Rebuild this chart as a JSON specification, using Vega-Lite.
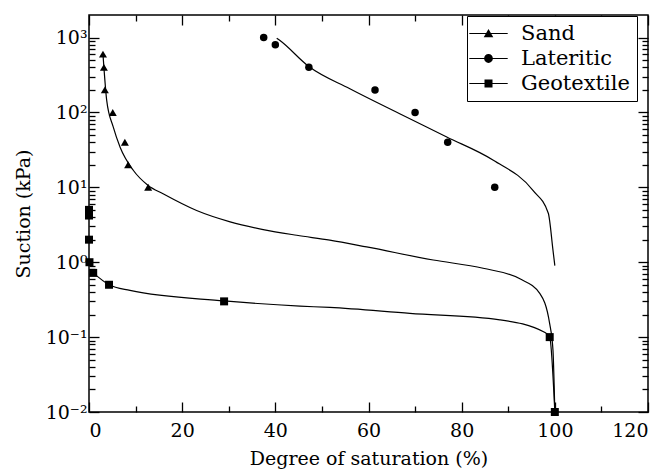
{
  "$schema": "https://vega.github.io/schema/vega-lite/v6.json",
  "width": 559,
  "height": 397,
  "autosize": {"type": "none"},
  "padding": {"left": 89, "top": 15, "right": 22, "bottom": 63},
  "background": "white",
  "config": {
    "view": {"stroke": "black", "strokeWidth": 1.5},
    "font": "DejaVu Serif",
    "axis": {
      "labelFont": "DejaVu Serif",
      "titleFont": "DejaVu Serif",
      "labelColor": "black",
      "titleColor": "black",
      "labelFontSize": 19,
      "titleFontSize": 19,
      "titleFontWeight": "normal",
      "domain": false,
      "ticks": true,
      "tickColor": "black",
      "tickOpacity": 1,
      "tickWidth": 1.3,
      "grid": false,
      "labelOverlap": false
    },
    "legend": {"labelFont": "DejaVu Serif"}
  },
  "datasets": {
    "curves": [
      {"series": "Sand", "x": 3.0, "y": 600},
      {"series": "Sand", "x": 3.2, "y": 400},
      {"series": "Sand", "x": 3.8, "y": 145},
      {"series": "Sand", "x": 5.2, "y": 64},
      {"series": "Sand", "x": 6.7, "y": 34},
      {"series": "Sand", "x": 9.5, "y": 16.9},
      {"series": "Sand", "x": 12.7, "y": 10.6},
      {"series": "Sand", "x": 15.9, "y": 8.2},
      {"series": "Sand", "x": 23.1, "y": 4.9},
      {"series": "Sand", "x": 30.3, "y": 3.46},
      {"series": "Sand", "x": 37.4, "y": 2.73},
      {"series": "Sand", "x": 44.6, "y": 2.29},
      {"series": "Sand", "x": 51.7, "y": 1.97},
      {"series": "Sand", "x": 59.6, "y": 1.6},
      {"series": "Sand", "x": 73.9, "y": 1.07},
      {"series": "Sand", "x": 84.6, "y": 0.83},
      {"series": "Sand", "x": 92.5, "y": 0.6},
      {"series": "Sand", "x": 96.8, "y": 0.38},
      {"series": "Sand", "x": 98.9, "y": 0.15},
      {"series": "Sand", "x": 99.6, "y": 0.067},
      {"series": "Sand", "x": 100, "y": 0.01},
      {"series": "Lateritic", "x": 40.3, "y": 980},
      {"series": "Lateritic", "x": 41, "y": 912},
      {"series": "Lateritic", "x": 47.2, "y": 410},
      {"series": "Lateritic", "x": 56.0, "y": 207},
      {"series": "Lateritic", "x": 66.7, "y": 96},
      {"series": "Lateritic", "x": 76.8, "y": 47},
      {"series": "Lateritic", "x": 86.8, "y": 23},
      {"series": "Lateritic", "x": 95.3, "y": 9.1},
      {"series": "Lateritic", "x": 98.6, "y": 4.5},
      {"series": "Lateritic", "x": 99.6, "y": 1.45},
      {"series": "Lateritic", "x": 100, "y": 0.9},
      {"series": "Geotextile", "x": 0.9, "y": 0.72},
      {"series": "Geotextile", "x": 4.3, "y": 0.5},
      {"series": "Geotextile", "x": 8.8, "y": 0.42},
      {"series": "Geotextile", "x": 29, "y": 0.305},
      {"series": "Geotextile", "x": 45.3, "y": 0.259},
      {"series": "Geotextile", "x": 51.7, "y": 0.249},
      {"series": "Geotextile", "x": 68.9, "y": 0.207},
      {"series": "Geotextile", "x": 88.2, "y": 0.17},
      {"series": "Geotextile", "x": 97.9, "y": 0.115},
      {"series": "Geotextile", "x": 98.9, "y": 0.1},
      {"series": "Geotextile", "x": 100, "y": 0.01}
    ],
    "points": [
      {"series": "Sand", "x": 3.0, "y": 600},
      {"series": "Sand", "x": 3.2, "y": 400},
      {"series": "Sand", "x": 3.4, "y": 200},
      {"series": "Sand", "x": 5.1, "y": 100},
      {"series": "Sand", "x": 7.7, "y": 40},
      {"series": "Sand", "x": 8.4, "y": 20},
      {"series": "Sand", "x": 12.7, "y": 10},
      {"series": "Lateritic", "x": 37.5, "y": 1000},
      {"series": "Lateritic", "x": 40, "y": 800},
      {"series": "Lateritic", "x": 47.2, "y": 400},
      {"series": "Lateritic", "x": 61.4, "y": 200},
      {"series": "Lateritic", "x": 70, "y": 100},
      {"series": "Lateritic", "x": 77, "y": 40},
      {"series": "Lateritic", "x": 87.1, "y": 10},
      {"series": "Geotextile", "x": 0, "y": 5},
      {"series": "Geotextile", "x": 0, "y": 4.2},
      {"series": "Geotextile", "x": 0, "y": 2},
      {"series": "Geotextile", "x": 0.1, "y": 1},
      {"series": "Geotextile", "x": 0.9, "y": 0.72},
      {"series": "Geotextile", "x": 4.3, "y": 0.5},
      {"series": "Geotextile", "x": 29, "y": 0.3},
      {"series": "Geotextile", "x": 98.9, "y": 0.1},
      {"series": "Geotextile", "x": 100, "y": 0.01}
    ]
  },
  "resolve": {"axis": {"x": "independent", "y": "independent"}},
  "layer": [
    {
      "data": {"name": "curves"},
      "mark": {"type": "line", "color": "black", "strokeOpacity": 0},
      "encoding": {
        "x": {
          "field": "x", "type": "quantitative",
          "scale": {"domain": [0, 120], "nice": false},
          "axis": {"orient": "bottom", "title": null, "labels": false, "offset": -6, "tickSize": 6, "values": [10, 30, 50, 70, 90, 110]}
        },
        "y": {
          "field": "y", "type": "quantitative",
          "scale": {"type": "log", "domain": [0.01, 2000], "nice": false},
          "axis": {"orient": "left", "title": null, "labels": false, "offset": -6, "tickSize": 6,
            "values": [0.02,0.03,0.04,0.05,0.06,0.07,0.08,0.09,0.2,0.3,0.4,0.5,0.6,0.7,0.8,0.9,2,3,4,5,6,7,8,9,20,30,40,50,60,70,80,90,200,300,400,500,600,700,800,900]}
        },
        "detail": {"field": "series"}
      }
    },
    {
      "data": {"name": "points"},
      "mark": {"type": "point", "opacity": 0},
      "encoding": {
        "x": {
          "field": "x", "type": "quantitative",
          "scale": {"domain": [0, 120], "nice": false},
          "axis": {"orient": "top", "title": null, "labels": false, "offset": -6, "tickSize": 6, "values": [10, 30, 50, 70, 90, 110]}
        },
        "y": {
          "field": "y", "type": "quantitative",
          "scale": {"type": "log", "domain": [0.01, 2000], "nice": false},
          "axis": {"orient": "right", "title": null, "labels": false, "offset": -6, "tickSize": 6,
            "values": [0.02,0.03,0.04,0.05,0.06,0.07,0.08,0.09,0.2,0.3,0.4,0.5,0.6,0.7,0.8,0.9,2,3,4,5,6,7,8,9,20,30,40,50,60,70,80,90,200,300,400,500,600,700,800,900]}
        }
      }
    },
    {
      "data": {"name": "points"},
      "mark": {"type": "point", "opacity": 0},
      "encoding": {
        "x": {
          "field": "x", "type": "quantitative",
          "scale": {"domain": [0, 120], "nice": false},
          "axis": {"orient": "top", "title": null, "labels": false, "offset": -10, "tickSize": 10, "values": [0, 20, 40, 60, 80, 100, 120]}
        },
        "y": {
          "field": "y", "type": "quantitative",
          "scale": {"type": "log", "domain": [0.01, 2000], "nice": false},
          "axis": {"orient": "right", "title": null, "labels": false, "offset": -10, "tickSize": 10, "values": [0.01, 0.1, 1, 10, 100, 1000]}
        }
      }
    },
    {
      "data": {"name": "curves"},
      "mark": {"type": "line", "color": "black", "strokeWidth": 1.2, "interpolate": "monotone", "clip": true},
      "encoding": {
        "x": {
          "field": "x", "type": "quantitative",
          "scale": {"domain": [0, 120], "nice": false},
          "axis": {
            "orient": "bottom",
            "title": "Degree of saturation (%)",
            "values": [0, 20, 40, 60, 80, 100, 120],
            "offset": -10,
            "tickSize": 10,
            "labelPadding": 9,
            "titlePadding": 9
          }
        },
        "y": {
          "field": "y", "type": "quantitative",
          "scale": {"type": "log", "domain": [0.01, 2000], "nice": false},
          "axis": {
            "orient": "left",
            "title": "Suction (kPa)",
            "values": [0.01, 0.1, 1, 10, 100, 1000],
            "labelExpr": "'10' + ['⁻²','⁻¹','⁰','¹','²','³'][round(log(datum.value)/LN10) + 2]",
            "offset": -10,
            "tickSize": 10,
            "labelPadding": 2,
            "titlePadding": 12
          }
        },
        "detail": {"field": "series"}
      }
    },
    {
      "data": {"name": "points"},
      "transform": [{"filter": "datum.series === 'Sand'"}],
      "mark": {"type": "point", "shape": "triangle-up", "filled": true, "color": "black", "opacity": 1, "size": 64},
      "encoding": {
        "x": {"field": "x", "type": "quantitative", "scale": {"domain": [0, 120], "nice": false}, "axis": null},
        "y": {"field": "y", "type": "quantitative", "scale": {"type": "log", "domain": [0.01, 2000], "nice": false}, "axis": null}
      }
    },
    {
      "data": {"name": "points"},
      "transform": [{"filter": "datum.series === 'Lateritic'"}],
      "mark": {"type": "point", "shape": "circle", "filled": true, "color": "black", "opacity": 1, "size": 56},
      "encoding": {
        "x": {"field": "x", "type": "quantitative", "scale": {"domain": [0, 120], "nice": false}, "axis": null},
        "y": {"field": "y", "type": "quantitative", "scale": {"type": "log", "domain": [0.01, 2000], "nice": false}, "axis": null}
      }
    },
    {
      "data": {"name": "points"},
      "transform": [{"filter": "datum.series === 'Geotextile'"}],
      "mark": {"type": "point", "shape": "square", "filled": true, "color": "black", "opacity": 1, "size": 64},
      "encoding": {
        "x": {"field": "x", "type": "quantitative", "scale": {"domain": [0, 120], "nice": false}, "axis": null},
        "y": {"field": "y", "type": "quantitative", "scale": {"type": "log", "domain": [0.01, 2000], "nice": false}, "axis": null}
      }
    },
    {
      "data": {"name": "points"},
      "mark": {"type": "point", "filled": true, "color": "black", "opacity": 1, "size": 0},
      "encoding": {
        "x": {"field": "x", "type": "quantitative", "scale": {"domain": [0, 120], "nice": false}, "axis": null},
        "y": {"field": "y", "type": "quantitative", "scale": {"type": "log", "domain": [0.01, 2000], "nice": false}, "axis": null},
        "shape": {
          "field": "series", "type": "nominal",
          "scale": {"domain": ["Sand", "Lateritic", "Geotextile"], "range": [
            "M-4.8,-0.15L4.8,-0.15L4.8,0.15L-4.8,0.15ZM0,-1.15L1.2,0.95L-1.2,0.95Z",
            "M-4.8,-0.15L4.8,-0.15L4.8,0.15L-4.8,0.15ZM-1.1,0A1.1,1.1,0,1,1,1.1,0A1.1,1.1,0,1,1,-1.1,0Z",
            "M-4.8,-0.15L4.8,-0.15L4.8,0.15L-4.8,0.15ZM-1,-1L1,-1L1,1L-1,1Z"
          ]},
          "legend": {
            "title": null,
            "orient": "none",
            "legendX": 378,
            "legendY": 1,
            "strokeColor": "black",
            "fillColor": "white",
            "padding": 7,
            "symbolSize": 64,
            "symbolOffset": 4,
            "labelOffset": 22,
            "rowPadding": 3,
            "labelFont": "DejaVu Serif",
            "labelFontSize": 21,
            "labelColor": "black",
            "symbolFillColor": "black",
            "symbolStrokeColor": "black",
            "symbolStrokeWidth": 0
          }
        }
      }
    }
  ]
}
